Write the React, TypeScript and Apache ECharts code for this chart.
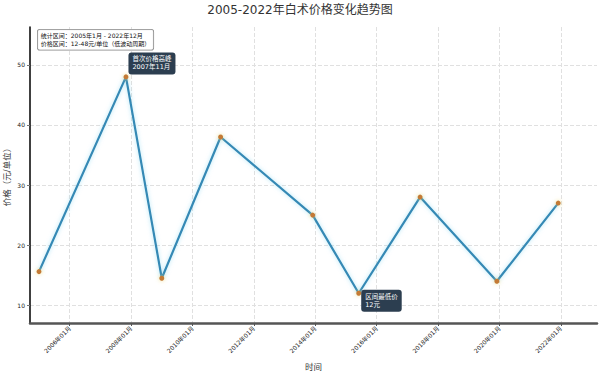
import React, { useEffect, useRef } from 'react';
import * as echarts from 'echarts';

const dates = ['2005-01', '2007-11', '2009-01', '2010-12', '2013-12', '2015-06', '2017-06', '2019-12', '2021-12'];
const prices = [15.6, 48, 14.5, 38, 25, 12, 28, 14, 27];
const xTickYears = [2006, 2008, 2010, 2012, 2014, 2016, 2018, 2020, 2022];
const yTicks = [10, 20, 30, 40, 50];
const titleText = '2005-2022年白术价格变化趋势图';
const peakLabel = '首次价格高峰\n2007年11月';
const lowLabel = '区间最低价\n12元';
const statsText = '统计区间：2005年1月 - 2022年12月\n价格区间：12-48元/单位（低波动周期）';
const xName = '时间';
const yName = '价格（元/单位）';

const FONT = '"DejaVu Sans", "Noto Sans CJK SC", sans-serif';

function toYear(s: string): number {
  const [y, m] = s.split('-').map(Number);
  return y + (m - 1) / 12;
}

export default function App() {
  const ref = useRef<HTMLDivElement>(null);
  useEffect(() => {
    if (!ref.current) return;
    const chart = echarts.init(ref.current, undefined, { renderer: 'svg' });
    const maxIdx = prices.indexOf(Math.max(...prices));
    const minIdx = prices.indexOf(Math.min(...prices));
    const annot = {
      show: true,
      backgroundColor: '#2c3e50',
      color: '#ffffff',
      borderRadius: 3,
      padding: [3, 4],
      fontSize: 6.5,
      lineHeight: 8,
      fontFamily: FONT,
    };
    const data = dates.map((d, i) => {
      const item: any = { value: [toYear(d), prices[i]] };
      if (i === maxIdx) item.label = { ...annot, formatter: peakLabel, position: [5, -22] };
      if (i === minIdx) item.label = { ...annot, formatter: lowLabel, position: [5, -1] };
      return item;
    });
    chart.setOption({
      animation: false,
      backgroundColor: '#ffffff',
      title: {
        text: titleText,
        left: 'center',
        top: -1,
        textStyle: { fontSize: 12, fontWeight: 'normal', color: '#333', fontFamily: FONT },
      },
      grid: { left: 30, right: 3, top: 27, bottom: 50, containLabel: false, outerBoundsMode: 'none' },
      xAxis: {
        type: 'value',
        min: 2004.707,
        max: 2023.18,
        name: xName,
        nameLocation: 'middle',
        nameGap: 40,
        nameMoveOverlap: false,
        nameTextStyle: { fontSize: 8.5, color: '#333333', fontFamily: FONT },
        axisLine: { show: true, lineStyle: { color: '#555', width: 2.5 } },
        axisTick: { show: true, length: 3, customValues: xTickYears, lineStyle: { color: '#555' } },
        axisLabel: {
          customValues: xTickYears,
          rotate: 45,
          fontSize: 6,
          color: '#222',
          fontFamily: FONT,
          margin: 4,
          formatter: (v: number) => `${Math.round(v)}年01月`,
        },
        splitLine: { show: true, lineStyle: { color: '#e0e0e0', type: 'dashed', width: 1 } },
      },
      yAxis: {
        type: 'value',
        min: 7.05,
        max: 56.3,
        name: yName,
        nameLocation: 'middle',
        nameGap: 19,
        nameMoveOverlap: false,
        nameTextStyle: { fontSize: 8.5, color: '#333333', fontFamily: FONT },
        axisLine: { show: true, lineStyle: { color: '#000', width: 1.5 } },
        axisTick: { show: true, length: 3, customValues: yTicks, lineStyle: { color: '#777' } },
        axisLabel: { customValues: yTicks, fontSize: 6, color: '#222', fontFamily: FONT, margin: 5 },
        splitLine: { show: true, lineStyle: { color: '#e0e0e0', type: 'dashed', width: 1 } },
      },
      graphic: [
        {
          type: 'text',
          left: 37,
          top: 29,
          z: 100,
          style: {
            text: statsText,
            fontSize: 6,
            lineHeight: 8,
            fontFamily: FONT,
            fill: '#111',
            backgroundColor: 'rgba(255,255,255,0.9)',
            borderColor: '#888',
            borderWidth: 0.8,
            borderRadius: 2,
            padding: [2, 3],
          },
        },
      ],
      series: [
        {
          type: 'line',
          data,
          symbol: 'circle',
          symbolSize: 5,
          itemStyle: { color: '#c47a35', shadowColor: 'rgba(255,220,120,0.8)', shadowBlur: 4 },
          lineStyle: { color: '#3589b5', width: 2.2, shadowColor: 'rgba(120,210,240,0.6)', shadowBlur: 4 },
          label: { show: false },
          z: 3,
        },
      ],
    });
    return () => chart.dispose();
  }, []);
  return <div ref={ref} style={{ position: 'absolute', left: 0, top: 0, width: 600, height: 373 }} />;
}
